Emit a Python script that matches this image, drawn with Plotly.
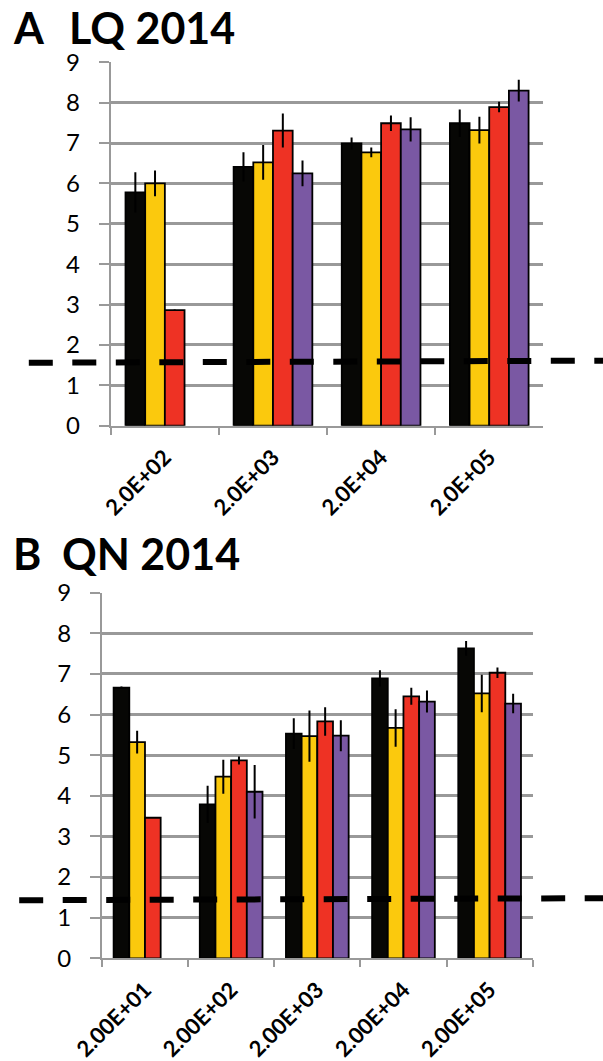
import plotly.graph_objects as go

W, H = 603, 1061

# ---------------- data ----------------
top_categories = ["2.0E+02", "2.0E+03", "2.0E+04", "2.0E+05"]
top_black = [5.78, 6.41, 6.99, 7.49]
top_black_err = [0.50, 0.36, 0.15, 0.34]
top_yellow = [6.00, 6.52, 6.77, 7.32]
top_yellow_err = [0.32, 0.43, 0.12, 0.33]
top_red = [2.86, 7.31, 7.49, 7.89]
top_red_err = [0.02, 0.42, 0.19, 0.13]
top_purple = [None, 6.25, 7.34, 8.30]
top_purple_err = [0, 0.32, 0.30, 0.27]
top_threshold = [1.56, 1.61]

bot_categories = ["2.00E+01", "2.00E+02", "2.00E+03", "2.00E+04", "2.00E+05"]
bot_black = [6.66, 3.79, 5.53, 6.89, 7.63]
bot_black_err = [0.03, 0.46, 0.38, 0.20, 0.18]
bot_yellow = [5.32, 4.47, 5.47, 5.67, 6.52]
bot_yellow_err = [0.28, 0.42, 0.63, 0.46, 0.46]
bot_red = [3.46, 4.87, 5.83, 6.45, 7.03]
bot_red_err = [0.0, 0.10, 0.35, 0.21, 0.13]
bot_purple = [None, 4.10, 5.48, 6.32, 6.27]
bot_purple_err = [0, 0.66, 0.38, 0.27, 0.24]
bot_threshold = [1.43, 1.48]

y_ticks = [0, 1, 2, 3, 4, 5, 6, 7, 8, 9]
titles = [("A", "LQ 2014"), ("B", "QN 2014")]

# ---------------- style ----------------
COLORS = ["#070705", "#fbc90d", "#ee3224", "#7a58a3"]
GRID = "#999999"
FONT = "Lato"

fig = go.Figure()

def add_panel(cats, series, errs, xa, ya):
    for vals, err, col in zip(series, errs, COLORS):
        fig.add_trace(go.Bar(
            x=cats, y=vals, xaxis=xa, yaxis=ya,
            marker=dict(color=col, line=dict(color="#000000", width=1.8)),
            error_y=dict(type="data", array=err, color="#000000",
                         thickness=2, width=0, visible=True),
            showlegend=False,
        ))

add_panel(top_categories, [top_black, top_yellow, top_red, top_purple],
          [top_black_err, top_yellow_err, top_red_err, top_purple_err], "x", "y")
add_panel(bot_categories, [bot_black, bot_yellow, bot_red, bot_purple],
          [bot_black_err, bot_yellow_err, bot_red_err, bot_purple_err], "x2", "y2")

def px_x(p):
    return p / W

def px_y(p):
    return 1 - p / H

xcommon = dict(
    type="category", showline=True, linecolor=GRID, linewidth=2,
    ticks="outside", tickson="boundaries", ticklen=7, tickwidth=2, tickcolor=GRID,
    tickangle=-45, showgrid=False, zeroline=False, automargin=False,
    tickfont=dict(family=FONT, size=22, color="#000000", weight="bold"),
    ticklabelstandoff=8,
)
ycommon = dict(
    type="linear", range=[0, 9], tickmode="array", tickvals=y_ticks,
    showline=True, linecolor=GRID, linewidth=2,
    ticks="outside", ticklen=10, tickwidth=2, tickcolor=GRID,
    showgrid=True, gridcolor=GRID, gridwidth=2.5, griddash="solid",
    zeroline=False, automargin=False, layer="above traces",
    tickfont=dict(family=FONT, size=24, color="#000000"),
    ticklabelstandoff=14,
)

fig.update_layout(
    template="none",
    width=W, height=H,
    margin=dict(l=0, r=0, t=0, b=0, pad=0),
    paper_bgcolor="white", plot_bgcolor="white",
    barmode="group", bargap=0.272, bargroupgap=0,
    xaxis=dict(domain=[px_x(110.8), px_x(543.3)], anchor="y", **xcommon),
    yaxis=dict(domain=[px_y(425.7), px_y(62.3)], anchor="x", **ycommon),
    xaxis2=dict(domain=[px_x(101.9), px_x(532.7)], anchor="y2", **xcommon),
    yaxis2=dict(domain=[px_y(958.3), px_y(592.7)], anchor="x2", **ycommon),
)

# dashed threshold lines
for (x0px, thr, yref) in [(28.8, top_threshold, "y"), (19.2, bot_threshold, "y2")]:
    fig.add_shape(type="line", xref="paper", yref=yref,
                  x0=px_x(x0px), x1=1.0, y0=thr[0], y1=thr[1],
                  line=dict(color="#000000", width=6, dash="24px,19.5px"),
                  layer="above")

# panel titles
for (letter, name), (lx, nx, cy) in zip(titles, [(11.5, 68.4, 27.7), (12.0, 61.3, 553.0)]):
    fig.add_annotation(text=f"<b>{letter}</b>", xref="paper", yref="paper",
                       x=px_x(lx), y=px_y(cy), xanchor="left", yanchor="middle",
                       showarrow=False, borderpad=0,
                       font=dict(family=FONT, size=43, color="#000000"))
    fig.add_annotation(text=f"<b>{name}</b>", xref="paper", yref="paper",
                       x=px_x(nx), y=px_y(cy), xanchor="left", yanchor="middle",
                       showarrow=False, borderpad=0,
                       font=dict(family=FONT, size=43, color="#000000"))

fig.write_html("out.html")
